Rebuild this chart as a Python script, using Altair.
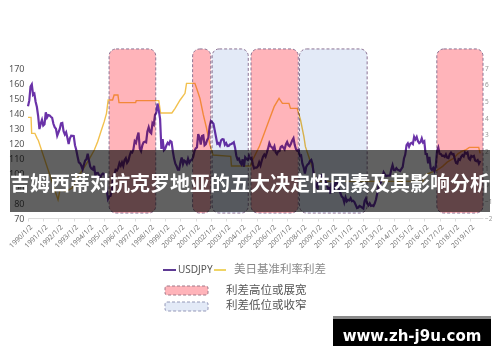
import altair as alt
import pandas as pd

# ---------------- data ----------------
title_text = "吉姆西蒂对抗克罗地亚的五大决定性因素及其影响分析"
watermark_text = "www.zh-j9u.com"

years = list(range(1990, 2020))
# USDJPY, monthly values (Jan..Dec for each year)
usdjpy_by_year = [
    [144.5, 148.2, 157.6, 159.1, 152.1, 152.9, 147.5, 144.0, 137.9, 129.3, 132.9, 135.4],
    [131.6, 132.5, 140.5, 137.0, 138.6, 138.3, 137.5, 136.8, 132.8, 130.5, 129.5, 124.9],
    [127.1, 129.4, 133.1, 133.4, 127.9, 125.7, 127.2, 123.5, 119.3, 123.1, 124.8, 124.7],
    [124.6, 118.5, 115.3, 111.0, 107.1, 106.5, 104.8, 102.4, 105.5, 108.3, 109.2, 112.9],
    [108.3, 104.2, 102.8, 102.3, 104.7, 98.5, 99.9, 100.0, 98.4, 97.0, 98.9, 99.7],
    [99.3, 96.5, 88.5, 82.7, 84.5, 84.7, 88.4, 97.5, 99.0, 102.1, 101.7, 103.4],
    [106.6, 104.9, 107.1, 104.7, 108.6, 109.9, 106.8, 108.1, 111.5, 114.0, 113.6, 115.8],
    [121.2, 120.1, 124.0, 127.0, 116.4, 114.6, 118.4, 120.5, 120.9, 120.5, 127.7, 130.5],
    [127.3, 126.4, 133.3, 132.2, 138.8, 140.1, 146.3, 141.6, 136.0, 116.1, 122.6, 115.2],
    [116.1, 118.5, 120.2, 119.1, 121.4, 120.8, 114.6, 109.6, 106.2, 104.5, 102.2, 102.2],
    [107.2, 110.3, 105.9, 108.3, 107.7, 106.1, 109.5, 106.8, 108.3, 108.8, 110.5, 114.4],
    [116.4, 117.1, 126.0, 123.6, 118.9, 124.6, 125.0, 118.5, 119.3, 121.9, 123.5, 131.0],
    [134.7, 133.8, 132.8, 128.5, 124.0, 119.5, 120.0, 118.4, 121.8, 122.5, 122.4, 118.8],
    [119.9, 118.0, 118.1, 119.0, 119.3, 119.8, 120.5, 116.9, 111.5, 109.0, 109.6, 107.2],
    [105.8, 109.1, 104.2, 110.5, 109.4, 108.7, 111.6, 109.4, 110.0, 105.8, 103.1, 103.6],
    [103.6, 104.6, 107.2, 105.0, 108.2, 110.9, 112.3, 110.9, 113.5, 116.4, 119.8, 117.8],
    [117.2, 115.8, 117.8, 113.8, 112.6, 114.4, 114.6, 117.4, 118.0, 116.9, 115.7, 119.0],
    [120.7, 118.5, 117.8, 119.5, 121.7, 123.2, 118.6, 115.8, 114.8, 115.3, 111.3, 111.7],
    [106.3, 103.8, 99.7, 104.0, 105.5, 106.2, 108.1, 108.8, 106.0, 98.4, 95.4, 90.6],
    [89.8, 97.6, 98.3, 98.6, 95.3, 96.4, 94.7, 93.1, 89.8, 90.1, 86.3, 93.1],
    [90.3, 88.9, 93.5, 94.1, 91.3, 88.4, 86.5, 84.2, 83.5, 80.4, 83.7, 81.1],
    [82.1, 81.8, 83.2, 81.2, 81.5, 80.6, 78.7, 76.6, 77.0, 78.1, 77.6, 76.9],
    [76.3, 81.2, 82.9, 79.8, 78.4, 79.8, 78.1, 78.4, 78.0, 79.8, 82.5, 86.7],
    [91.7, 92.6, 94.2, 97.5, 100.5, 99.1, 97.9, 98.2, 98.3, 98.4, 102.4, 105.3],
    [102.0, 101.8, 103.2, 102.2, 101.8, 101.3, 102.8, 104.1, 109.7, 112.3, 118.6, 119.8],
    [117.5, 119.6, 120.1, 119.3, 124.1, 122.4, 124.0, 121.2, 119.9, 120.6, 123.1, 120.3],
    [121.1, 112.7, 112.6, 106.5, 110.7, 103.2, 102.1, 103.4, 101.3, 104.8, 114.5, 116.9],
    [112.8, 112.7, 111.4, 111.5, 110.8, 112.4, 110.3, 110.0, 112.5, 113.6, 112.5, 112.7],
    [109.2, 106.7, 106.3, 109.3, 108.8, 110.8, 111.9, 111.0, 113.7, 112.9, 113.6, 109.7],
    [108.9, 111.4, 110.9, 111.4, 108.3, 107.9, 108.6, 106.3, 108.1],
]

# US-Japan benchmark rate spread (right axis)
spread_time = [1990.00, 1990.20, 1990.24, 1990.45, 1990.60, 1990.68, 1991.97, 1992.10, 1992.50,
               1992.90, 1993.20, 1993.60, 1994.00, 1994.35, 1994.57, 1994.78, 1995.00, 1995.15,
               1995.26, 1995.55, 1995.65, 1995.90, 1995.97, 1997.06, 1997.10, 1998.58, 1998.70,
               1999.44, 1999.65, 1999.98, 2000.30, 2000.40, 2000.95, 2001.10, 2001.28, 2001.50,
               2001.71, 2001.93, 2002.14, 2003.30, 2003.35, 2004.60, 2004.74, 2005.17, 2005.50,
               2005.82, 2006.15, 2006.47, 2006.69, 2007.12, 2007.22, 2007.66, 2007.88, 2008.10,
               2008.20, 2008.42, 2008.64, 2008.95, 2015.90, 2016.10, 2016.86, 2017.20, 2017.50,
               2017.95, 2018.20, 2018.45, 2018.70, 2018.95, 2019.57, 2019.66]
spread_value = [4.04, 4.04, 3.08, 3.08, 2.78, 2.65, -0.90, -0.30, -0.40,
                -0.20, 0.40, 0.90, 1.50, 2.08, 2.58, 3.18, 3.78, 4.28,
                5.08, 5.08, 5.38, 5.38, 4.92, 4.92, 5.04, 5.04, 4.30,
                4.30, 4.58, 5.08, 5.48, 6.08, 6.08, 5.68, 5.18, 4.20,
                3.40, 2.40, 1.78, 1.70, 1.12, 1.12, 1.48, 2.28, 3.08,
                3.88, 4.68, 5.18, 4.88, 4.88, 4.58, 4.58, 3.88, 2.88,
                2.28, 1.68, 1.08, 0.20, 0.20, 0.60, 0.88, 1.10, 1.35,
                1.60, 1.85, 2.00, 2.08, 2.24, 2.24, 1.88]

region_start = [1995.32, 2000.80, 2002.08, 2004.63, 2007.81, 2016.82]
region_end = [1998.38, 2001.99, 2004.45, 2007.73, 2012.25, 2019.85]
region_kind = ["利差高位或展宽", "利差高位或展宽", "利差低位或收窄",
               "利差高位或展宽", "利差低位或收窄", "利差高位或展宽"]

legend_series = ["USDJPY", "美日基准利率利差"]
legend_regions = ["利差高位或展宽", "利差低位或收窄"]

# ---------------- tables ----------------
rows = []
for y, vals in zip(years, usdjpy_by_year):
    for m, v in enumerate(vals):
        rows.append({"t": y + m / 12.0, "v": v})
fx_df = pd.DataFrame(rows)
spread_df = pd.DataFrame({"t": spread_time, "v": spread_value})
reg_df = pd.DataFrame({"start": region_start, "end": region_end, "kind": region_kind})
reg_df["top"] = 182.7
reg_df["bottom"] = 73.3

PURPLE = "#6a32a8"
YELLOW = "#f2c14e"
PINK = "#ffb4ba"
BLUE = "#e3eaf7"

xscale = alt.Scale(domain=[1990, 2019.85], nice=False, zero=False)
yl_scale = alt.Scale(domain=[70, 170], nice=False, zero=False)
yr_scale = alt.Scale(domain=[-2, 7], nice=False, zero=False)

x_axis = alt.Axis(values=years, labelExpr="datum.value + '/1/2'", labelAngle=-45,
                  labelFontSize=7, labelColor="#777", tickSize=3, tickColor="#dcdcdc",
                  domainColor="#dcdcdc", grid=False, title=None, labelPadding=2,
                  labelFont="Noto Sans", labelOverlap=False)
left_axis = alt.Axis(values=list(range(70, 171, 10)), title=None, labelFontSize=9,
                     labelColor="#555", ticks=False, domain=False, gridColor="#e8e8e8",
                     labelPadding=4, labelFont="Noto Sans")
right_axis = alt.Axis(orient="right", values=list(range(-2, 8)), title=None, labelFontSize=6.5,
                      labelColor="#999", ticks=False, domain=False, grid=False,
                      labelPadding=1.5, labelFont="Noto Sans")

purple = alt.Chart(fx_df).mark_line(color=PURPLE, strokeWidth=2.2).encode(
    x=alt.X("t:Q", scale=xscale, axis=x_axis),
    y=alt.Y("v:Q", scale=yl_scale, axis=left_axis),
)

rects = alt.Chart(reg_df).mark_rect(
    cornerRadius=7, stroke="#8c7394", strokeDash=[3, 2], strokeWidth=1, blend="multiply"
).encode(
    x=alt.X("start:Q", scale=xscale, axis=x_axis),
    x2="end:Q",
    y=alt.Y("top:Q", scale=yl_scale, axis=left_axis),
    y2="bottom:Q",
    color=alt.Color("kind:N", scale=alt.Scale(domain=legend_regions, range=[PINK, BLUE]),
                    legend=None),
)

yellow = alt.Chart(spread_df).mark_line(color=YELLOW, strokeWidth=1.4).encode(
    x=alt.X("t:Q", scale=xscale, axis=x_axis),
    y=alt.Y("v:Q", scale=yr_scale, axis=right_axis),
)

one = pd.DataFrame({"a": [0]})

banner = alt.Chart(one).mark_rect(color="#000000", opacity=0.62).encode(
    x=alt.value(-18), x2=alt.value(462), y=alt.value(82), y2=alt.value(144))
banner_text = alt.Chart(pd.DataFrame({"s": [title_text]})).mark_text(
    color="white", fontSize=20, fontWeight="bold", font="Noto Sans CJK SC",
    align="center", baseline="middle").encode(
    x=alt.value(222), y=alt.value(117), text="s:N")

# legend
leg_line1 = alt.Chart(one).mark_rule(color="#5e3a94", strokeWidth=2).encode(
    x=alt.value(135), x2=alt.value(148), y=alt.value(202))
leg_text1 = alt.Chart(pd.DataFrame({"s": [legend_series[0]]})).mark_text(
    color="#555", fontSize=10, font="Noto Sans", align="left", baseline="middle").encode(
    x=alt.value(150), y=alt.value(202), text="s:N")
leg_line2 = alt.Chart(one).mark_rule(color="#efd466", strokeWidth=2).encode(
    x=alt.value(186), x2=alt.value(198), y=alt.value(202))
leg_text2 = alt.Chart(pd.DataFrame({"s": [legend_series[1]]})).mark_text(
    color="#888", fontSize=11.5, font="Noto Sans CJK SC", align="left", baseline="middle").encode(
    x=alt.value(206), y=alt.value(202), text="s:N")
leg_box1 = alt.Chart(one).mark_rect(fill=PINK, stroke="#a07888", strokeDash=[3, 2],
                                    strokeWidth=1, cornerRadius=2).encode(
    x=alt.value(137), x2=alt.value(180), y=alt.value(218), y2=alt.value(227))
leg_box2 = alt.Chart(one).mark_rect(fill=BLUE, stroke="#9498b8", strokeDash=[3, 2],
                                    strokeWidth=1, cornerRadius=2).encode(
    x=alt.value(137), x2=alt.value(180), y=alt.value(234), y2=alt.value(243))
leg_text3 = alt.Chart(pd.DataFrame({"s": [legend_regions[0]]})).mark_text(
    color="#555", fontSize=11.5, font="Noto Sans CJK SC", align="left", baseline="middle").encode(
    x=alt.value(198), y=alt.value(222.5), text="s:N")
leg_text4 = alt.Chart(pd.DataFrame({"s": [legend_regions[1]]})).mark_text(
    color="#555", fontSize=11.5, font="Noto Sans CJK SC", align="left", baseline="middle").encode(
    x=alt.value(198), y=alt.value(238), text="s:N")

# watermark
wm_stripe = alt.Chart(one).mark_rect(color="#8a8a8a").encode(
    x=alt.value(305), x2=alt.value(463), y=alt.value(248), y2=alt.value(251))
wm_box = alt.Chart(one).mark_rect(color="#000000").encode(
    x=alt.value(305), x2=alt.value(463), y=alt.value(251), y2=alt.value(284))
wm_text = alt.Chart(pd.DataFrame({"s": [watermark_text]})).mark_text(
    color="white", fontSize=15, fontWeight="bold", font="DejaVu Sans",
    align="center", baseline="middle").encode(
    x=alt.value(384), y=alt.value(268), text="s:N")

left_part = alt.layer(purple, rects)
chart = alt.layer(
    yellow, left_part,
    banner, banner_text,
    leg_line1, leg_text1, leg_line2, leg_text2, leg_box1, leg_box2, leg_text3, leg_text4,
    wm_stripe, wm_box, wm_text,
).resolve_scale(y="independent").properties(
    width=455, height=150,
    padding={"left": 20, "top": 60, "right": 9, "bottom": 128},
    autosize=alt.AutoSizeParams(type="none"),
    background="white",
).configure_view(stroke=None)

chart.save("out.html", embed_options={"renderer": "svg", "actions": False})
